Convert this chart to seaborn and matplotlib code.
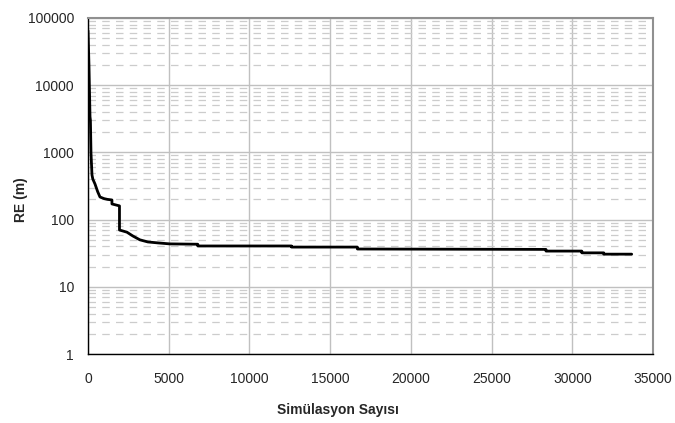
import matplotlib
matplotlib.use("Agg")
import matplotlib.pyplot as plt
import seaborn as sns
import pandas as pd
from matplotlib.ticker import FixedLocator, LogLocator, NullFormatter

# Simulation count vs best RE value
sim_count = [0, 60, 124, 150, 185, 247, 300, 433, 600, 742, 1000, 1200,
             1483, 1483, 1950, 1950, 2410, 2780, 3214, 3708, 4326, 5068,
             6800, 6800, 12608, 12608, 16687, 16687, 28370, 28370, 30590,
             30590, 31950, 31950, 33680]
re_m = [65000, 20000, 3400, 3000, 980, 461, 400, 339, 260, 217, 205, 200,
        196, 171, 160, 70, 65, 57, 50, 46.5, 45, 43.5,
        43, 40.5, 40.5, 39, 39, 36.5, 36, 34, 34,
        32, 32, 30.6, 30.6]

x_ticks = [0, 5000, 10000, 15000, 20000, 25000, 30000, 35000]
y_ticks = [1, 10, 100, 1000, 10000, 100000]
y_ticklabels = ["1", "10", "100", "1000", "10000", "100000"]

df = pd.DataFrame({"sim": sim_count, "re": re_m})

sns.set_style("white")
plt.rcParams["font.family"] = ["Liberation Sans", "DejaVu Sans"]

fig = plt.figure(figsize=(6.75, 4.23), dpi=100)
ax = fig.add_axes([88 / 675, 69 / 423, 565 / 675, 336 / 423])

ax.set_yscale("log")
ax.set_xlim(0, 35000)
ax.set_ylim(1, 100000)

# grid: major solid, minor dashed
ax.yaxis.set_minor_locator(LogLocator(base=10, subs=range(2, 10)))
ax.yaxis.set_minor_formatter(NullFormatter())
ax.grid(True, which="major", axis="both", color="#c0c0c0", linewidth=1.0)
ax.grid(True, which="minor", axis="y", color="#cccccc", linewidth=0.9,
        linestyle=(0, (6, 5)))
ax.set_axisbelow(True)

sns.lineplot(data=df, x="sim", y="re", ax=ax, color="black", linewidth=2.0,
             sort=False, estimator=None)

ax.xaxis.set_major_locator(FixedLocator(x_ticks))
ax.set_xticklabels([str(t) for t in x_ticks], fontsize=10)
ax.yaxis.set_major_locator(FixedLocator(y_ticks))
ax.set_yticklabels(y_ticklabels, fontsize=10)
ax.tick_params(axis="both", which="major", direction="out", length=4,
               width=1, color="black", pad=6)
ax.tick_params(axis="y", which="minor", length=0)
ax.tick_params(axis="x", pad=9)

for side in ["left", "bottom"]:
    ax.spines[side].set_color("black")
    ax.spines[side].set_linewidth(1.0)
for side in ["top", "right"]:
    ax.spines[side].set_visible(True)
    ax.spines[side].set_color("#909090")
    ax.spines[side].set_linewidth(1.5)

ax.set_xlabel("Simülasyon Sayısı", fontsize=10, fontweight="bold")
ax.set_ylabel("RE (m)", fontsize=10, fontweight="bold")
ax.xaxis.set_label_coords(0.442, -0.147)
ax.yaxis.set_label_coords(-0.106, 0.458)

fig.savefig("out.png", dpi=100)
